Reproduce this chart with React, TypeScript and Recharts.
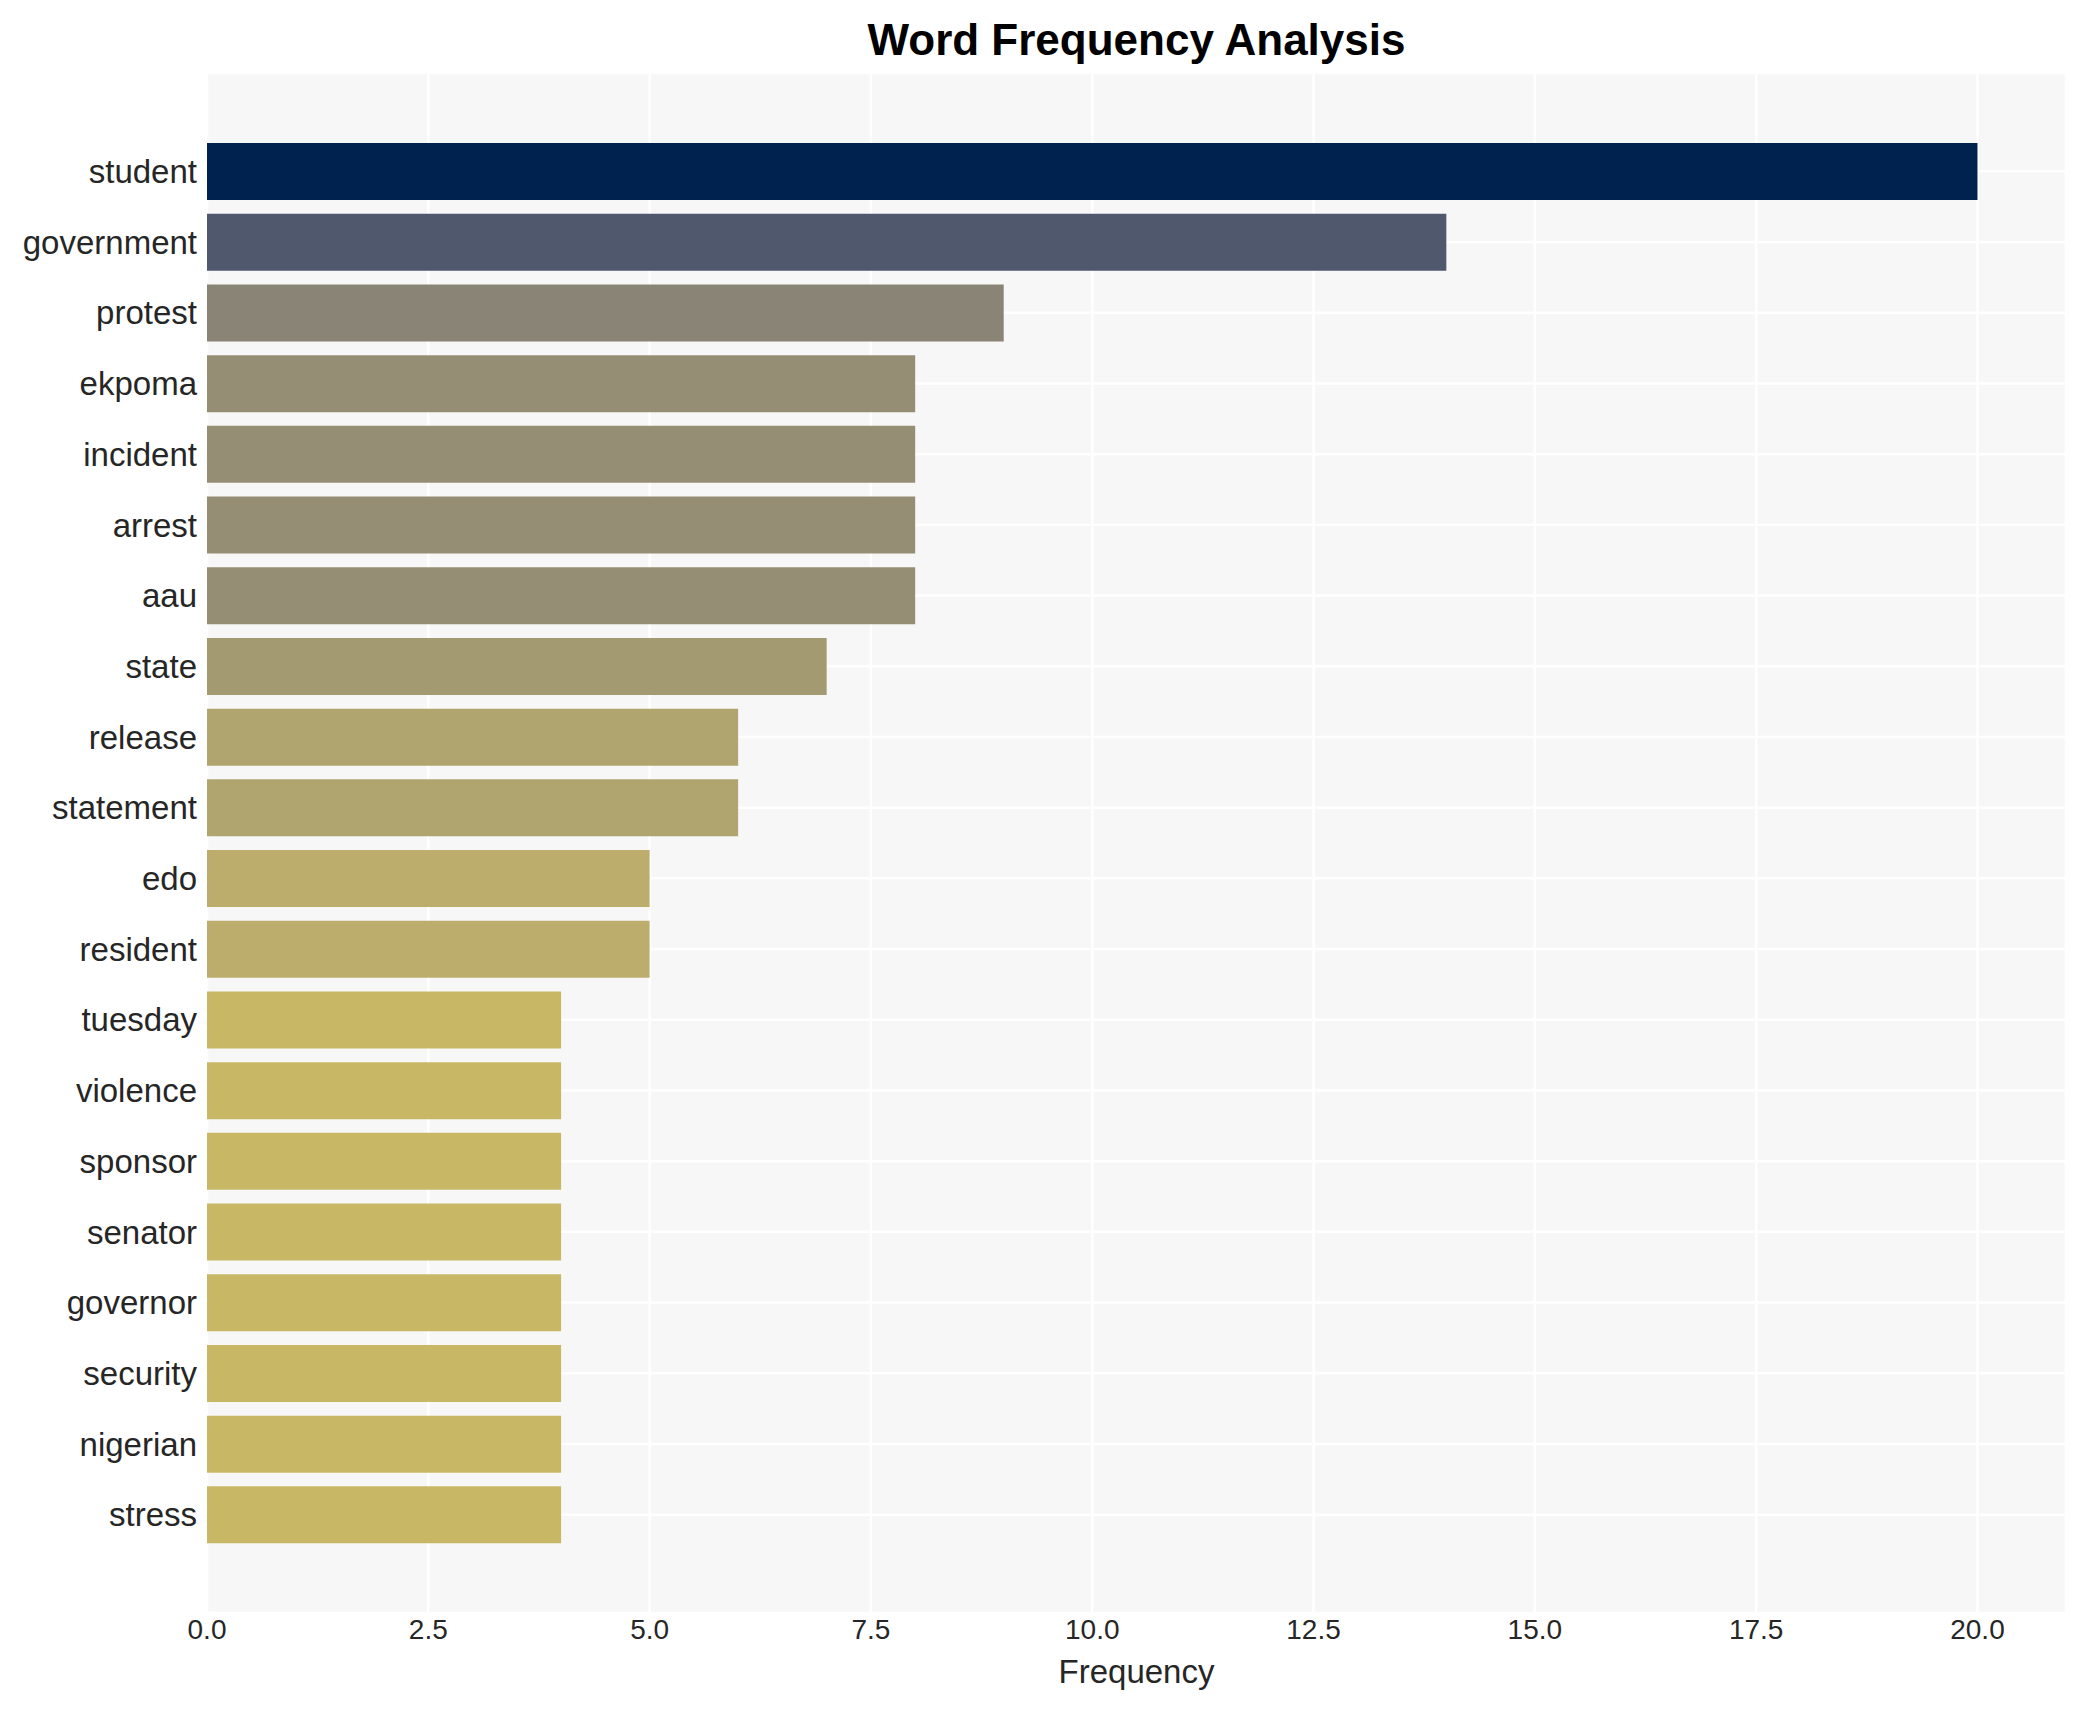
import { BarChart, Bar, XAxis, YAxis, CartesianGrid, Cell } from 'recharts'

const WORDS = [
  'student', 'government', 'protest', 'ekpoma', 'incident', 'arrest', 'aau',
  'state', 'release', 'statement', 'edo', 'resident', 'tuesday', 'violence',
  'sponsor', 'senator', 'governor', 'security', 'nigerian', 'stress',
]
const COUNTS = [20, 14, 9, 8, 8, 8, 8, 7, 6, 6, 5, 5, 4, 4, 4, 4, 4, 4, 4, 4]
const X_TICKS = [0, 2.5, 5, 7.5, 10, 12.5, 15, 17.5, 20]

// cividis-like shades, darkest for the highest count
const SHADES: Record<number, string> = {
  20: '#00224e',
  14: '#4f586d',
  9: '#898475',
  8: '#968e74',
  7: '#a39a72',
  6: '#b0a46f',
  5: '#bcad6d',
  4: '#c8b866',
}

const FONT = '"Liberation Sans", Arial, Helvetica, sans-serif'
const TEXT = '#262626'

const data = WORDS.map((word, i) => ({ word, count: COUNTS[i] }))

export default function App() {
  return (
    <div style={{ position: 'absolute', left: 0, top: 0, width: 2085, height: 1710, background: '#fff', fontFamily: FONT }}>
      <div style={{
        position: 'absolute', left: 207, width: 1859, top: 14, textAlign: 'center',
        fontSize: 44, fontWeight: 700, color: '#000', lineHeight: '52px',
      }}>
        Word Frequency Analysis
      </div>
      <BarChart
        width={2085}
        height={1710}
        data={data}
        layout="vertical"
        margin={{ top: 73, right: 19, left: 0, bottom: 0 }}
        barCategoryGap="10%"
      >
        <CartesianGrid fill="#f7f7f7" stroke="#ffffff" strokeWidth={2.5} />
        <XAxis
          type="number"
          domain={[0, 21]}
          ticks={X_TICKS}
          tickFormatter={(v: number) => v.toFixed(1)}
          axisLine={false}
          tickLine={false}
          tickSize={0}
          tickMargin={6}
          height={97}
          tick={{ fill: TEXT, fontSize: 28, fontFamily: FONT }}
          label={{ value: 'Frequency', position: 'insideBottom', offset: 27, fill: TEXT, fontSize: 33, fontFamily: FONT }}
        />
        <YAxis
          type="category"
          dataKey="word"
          width={207}
          interval={0}
          axisLine={false}
          tickLine={false}
          tickSize={0}
          tickMargin={10}
          padding={{ top: 63, bottom: 63 }}
          tick={{ fill: TEXT, fontSize: 33, fontFamily: FONT }}
        />
        <Bar dataKey="count" isAnimationActive={false}>
          {data.map(d => (
            <Cell key={d.word} fill={SHADES[d.count]} />
          ))}
        </Bar>
      </BarChart>
    </div>
  )
}
